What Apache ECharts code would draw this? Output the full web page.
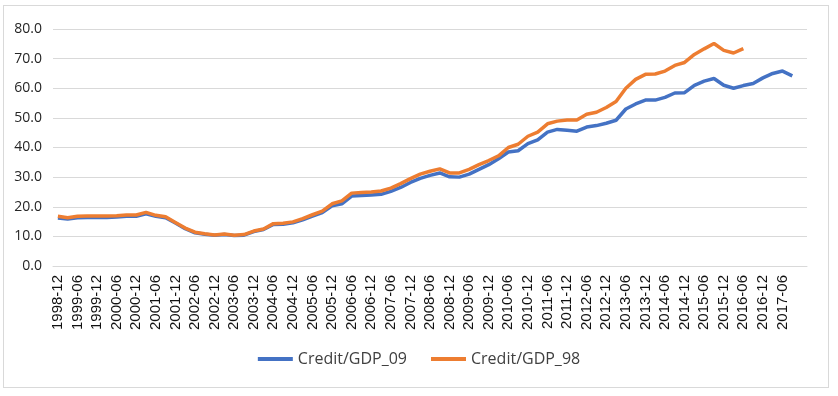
<!DOCTYPE html>
<html>
<head>
<meta charset="utf-8">
<script src="https://cdn.jsdelivr.net/npm/echarts@6/dist/echarts.min.js"></script>
<style>
  body { margin: 0; background: #fff; }
  #chart { position: absolute; left: 0; top: 0; width: 838px; height: 396px; }
  #frame { position: absolute; left: 3px; top: 5px; width: 824px; height: 381px; border: 1px solid #d9d9d9; pointer-events: none; }
</style>
</head>
<body>
<div id="chart"></div>
<div id="frame"></div>
<script>
// quarters, 1998-12 .. 2017-12
var quarters = [
  "1998-12",
  "1999-03", "1999-06", "1999-09", "1999-12",
  "2000-03", "2000-06", "2000-09", "2000-12",
  "2001-03", "2001-06", "2001-09", "2001-12",
  "2002-03", "2002-06", "2002-09", "2002-12",
  "2003-03", "2003-06", "2003-09", "2003-12",
  "2004-03", "2004-06", "2004-09", "2004-12",
  "2005-03", "2005-06", "2005-09", "2005-12",
  "2006-03", "2006-06", "2006-09", "2006-12",
  "2007-03", "2007-06", "2007-09", "2007-12",
  "2008-03", "2008-06", "2008-09", "2008-12",
  "2009-03", "2009-06", "2009-09", "2009-12",
  "2010-03", "2010-06", "2010-09", "2010-12",
  "2011-03", "2011-06", "2011-09", "2011-12",
  "2012-03", "2012-06", "2012-09", "2012-12",
  "2013-03", "2013-06", "2013-09", "2013-12",
  "2014-03", "2014-06", "2014-09", "2014-12",
  "2015-03", "2015-06", "2015-09", "2015-12",
  "2016-03", "2016-06", "2016-09", "2016-12",
  "2017-03", "2017-06", "2017-09", "2017-12"
];

// Credit/GDP_09 (blue)
var creditGdp09 = [
  16.2, 15.9, 16.3, 16.4, 16.4, 16.4, 16.5, 16.8, 16.8, 17.6,
  16.8, 16.3, 14.5, 12.6, 11.2, 10.7, 10.4, 10.6, 10.3, 10.4,
  11.6, 12.3, 14.0, 14.1, 14.6, 15.6, 16.8, 18.0, 20.3, 21.0,
  23.6, 23.8, 24.0, 24.2, 25.2, 26.5, 28.2, 29.6, 30.6, 31.4,
  30.1, 30.0, 31.0, 32.6, 34.2, 36.2, 38.5, 38.9, 41.3, 42.6,
  45.2, 46.1, 45.8, 45.5, 46.9, 47.4, 48.2, 49.2, 53.0, 54.7,
  56.0, 56.0, 56.9, 58.4, 58.5, 61.0, 62.4, 63.3, 61.0, 60.0,
  60.9, 61.6, 63.5, 65.0, 65.8, 64.2, null
];

// Credit/GDP_98 (orange), ends 2016-06
var creditGdp98 = [
  16.8, 16.3, 16.8, 16.9, 16.9, 16.9, 17.0, 17.2, 17.2, 18.1,
  17.1, 16.6, 14.7, 12.8, 11.4, 10.9, 10.5, 10.8, 10.4, 10.6,
  11.8, 12.5, 14.3, 14.4, 14.9, 16.0, 17.3, 18.5, 21.0, 22.0,
  24.6, 24.8, 25.0, 25.3, 26.3, 27.8, 29.5, 31.0, 32.0, 32.8,
  31.4, 31.4, 32.6, 34.2, 35.6, 37.2, 40.0, 41.1, 43.8, 45.2,
  48.0, 48.9, 49.3, 49.3, 51.2, 51.9, 53.5, 55.5, 60.0, 63.0,
  64.7, 64.8, 65.8, 67.7, 68.7, 71.4, 73.3, 75.1, 72.8, 71.9,
  73.4
];

var seriesNames = ["Credit/GDP_09", "Credit/GDP_98"];
var yTicks = { min: 0, max: 80, step: 10 };

var chart = echarts.init(document.getElementById("chart"));
chart.setOption({
  animation: false,
  grid: { left: 53, right: 31, top: 29, bottom: 130 },
  legend: {
    top: 346,
    left: "center",
    icon: "rect",
    itemWidth: 35,
    itemHeight: 4,
    itemGap: 24,
    textStyle: { fontFamily: "Open Sans", fontSize: 16, color: "#404040" },
    data: seriesNames
  },
  xAxis: {
    type: "category",
    data: quarters,
    boundaryGap: true,
    axisLine: { lineStyle: { color: "#d9d9d9" } },
    axisTick: { show: false },
    axisLabel: {
      rotate: 90,
      margin: 9,
      fontFamily: "Liberation Sans",
      fontSize: 15,
      color: "#111",
      interval: function (index) {
        return index % 2 === 0 && index < quarters.length - 1;
      }
    }
  },
  yAxis: {
    type: "value",
    min: yTicks.min,
    max: yTicks.max,
    interval: yTicks.step,
    axisLine: { show: false },
    axisTick: { show: false },
    splitLine: { lineStyle: { color: "#d9d9d9", width: 1 } },
    axisLabel: {
      margin: 11,
      fontFamily: "Open Sans",
      fontSize: 14,
      color: "#262626",
      formatter: function (v) { return v.toFixed(1); }
    }
  },
  series: [
    {
      name: seriesNames[0],
      type: "line",
      data: creditGdp09,
      symbol: "none",
      lineStyle: { color: "#4472C4", width: 3.5 },
      itemStyle: { color: "#4472C4" }
    },
    {
      name: seriesNames[1],
      type: "line",
      data: creditGdp98,
      symbol: "none",
      lineStyle: { color: "#ED7D31", width: 3.5 },
      itemStyle: { color: "#ED7D31" }
    }
  ]
});
</script>
</body>
</html>
